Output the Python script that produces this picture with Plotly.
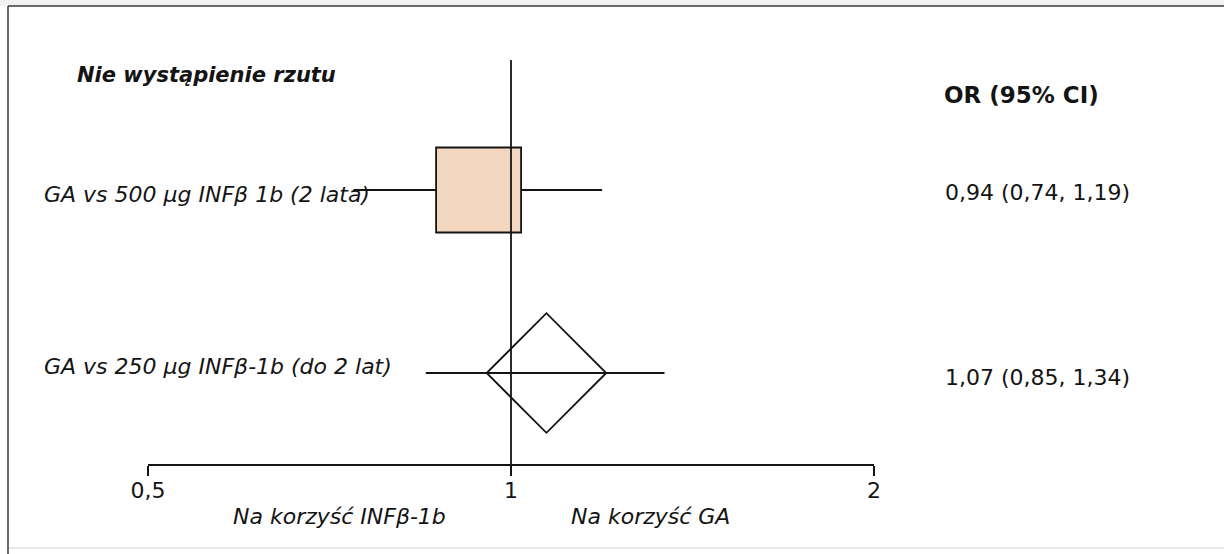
import plotly.graph_objects as go

# ---- data ----
row_labels = ["GA vs 500 μg INFβ 1b (2 lata)", "GA vs 250 μg INFβ-1b (do 2 lat)"]
odds_ratio = [0.94, 1.07]
ci_low = [0.74, 0.85]
ci_high = [1.19, 1.34]
rows = [1, 2]
tick_values = [0.5, 1, 2]
tick_labels = ["0,5", "1", "2"]
null_value = 1
title_text = "Nie wystąpienie rzutu"
column_header = "OR (95% CI)"
favours_left = "Na korzyść INFβ-1b"
favours_right = "Na korzyść GA"

# ---- styles ----
W, H = 1224, 554
FONT = "DejaVu Sans"
INK = "#141414"
LW = 1.8
symbols = ["square", "diamond-open"]
sizes = [85, 92]
fills = ["#F3D6C0", INK]
label_shift = [-4, 7]
value_shift = [-2, -4]


def fmt(v):
    return f"{v:.2f}".replace(".", ",")


def px_y(p):
    return 1 - p / H


def px_x(p):
    return p / W


fig = go.Figure()

for i, r in enumerate(rows):
    fig.add_trace(go.Scatter(
        x=[ci_low[i], ci_high[i]], y=[r, r], mode="lines",
        line=dict(color=INK, width=LW), hoverinfo="skip", showlegend=False))
    fig.add_trace(go.Scatter(
        x=[odds_ratio[i]], y=[r], mode="markers",
        marker=dict(symbol=symbols[i], size=sizes[i], color=fills[i],
                    line=dict(color=INK, width=LW)),
        hoverinfo="skip", showlegend=False))
    if symbols[i].endswith("open"):
        fig.add_trace(go.Scatter(
            x=[ci_low[i], ci_high[i]], y=[r, r], mode="lines",
            line=dict(color=INK, width=LW), hoverinfo="skip", showlegend=False))

annotations = []
for i, r in enumerate(rows):
    annotations.append(dict(
        x=px_x(42), xref="paper", y=r, yref="y", yshift=label_shift[i],
        text=row_labels[i], showarrow=False, xanchor="left", yanchor="middle",
        font=dict(family=FONT, size=22, color=INK, style="italic")))
    annotations.append(dict(
        x=px_x(943), xref="paper", y=r, yref="y", yshift=value_shift[i],
        text=f"{fmt(odds_ratio[i])} ({fmt(ci_low[i])}, {fmt(ci_high[i])})",
        showarrow=False, xanchor="left", yanchor="middle",
        font=dict(family=FONT, size=22, color=INK)))

annotations += [
    dict(x=px_x(75), xref="paper", y=px_y(75), yref="paper", text=title_text,
         showarrow=False, xanchor="left", yanchor="middle",
         font=dict(family=FONT, size=21, color=INK, style="italic", weight="bold")),
    dict(x=px_x(942), xref="paper", y=px_y(95), yref="paper", text=column_header,
         showarrow=False, xanchor="left", yanchor="middle",
         font=dict(family=FONT, size=23, color=INK, weight="bold")),
    dict(x=px_x(339), xref="paper", y=px_y(516), yref="paper", text=favours_left,
         showarrow=False, xanchor="center", yanchor="middle",
         font=dict(family=FONT, size=22, color=INK, style="italic")),
    dict(x=px_x(650), xref="paper", y=px_y(516), yref="paper", text=favours_right,
         showarrow=False, xanchor="center", yanchor="middle",
         font=dict(family=FONT, size=22, color=INK, style="italic")),
]

shapes = [
    dict(type="line", xref="x", yref="paper", x0=null_value, x1=null_value,
         y0=px_y(60), y1=px_y(465), line=dict(color=INK, width=LW), layer="above"),
    dict(type="rect", xref="paper", yref="paper", x0=0, x1=1, y0=px_y(6), y1=1,
         fillcolor="#f1f1f1", line=dict(width=0), layer="below"),
    dict(type="line", xref="paper", yref="paper", x0=px_x(8), x1=1,
         y0=px_y(6), y1=px_y(6), line=dict(color="#3a3a3a", width=1.5)),
    dict(type="line", xref="paper", yref="paper", x0=px_x(8), x1=px_x(8),
         y0=0, y1=px_y(6), line=dict(color="#3a3a3a", width=1.5)),
    dict(type="line", xref="paper", yref="paper", x0=px_x(9), x1=1,
         y0=px_y(548), y1=px_y(548), line=dict(color="#e2e2e2", width=1.5)),
]

fig.update_layout(
    width=W, height=H,
    margin=dict(l=0, r=0, t=0, b=0, pad=0, autoexpand=False),
    paper_bgcolor="white", plot_bgcolor="white",
    showlegend=False,
    annotations=annotations, shapes=shapes,
    xaxis=dict(
        type="log", domain=[px_x(148), px_x(874)],
        range=[-0.30103, 0.30103],
        anchor="free", position=px_y(465), automargin=False,
        showline=True, linecolor=INK, linewidth=LW,
        ticks="outside", ticklen=10, tickwidth=LW, tickcolor=INK,
        ticklabelstandoff=-4,
        tickvals=tick_values, ticktext=tick_labels,
        tickfont=dict(family=FONT, size=22, color=INK),
        showgrid=False, zeroline=False, fixedrange=True),
    yaxis=dict(
        range=[1 + (H - 190) / 183, 1 - 190 / 183], automargin=False,
        domain=[0, 1], visible=False, showgrid=False, zeroline=False),
)

fig.write_html("out.html")
